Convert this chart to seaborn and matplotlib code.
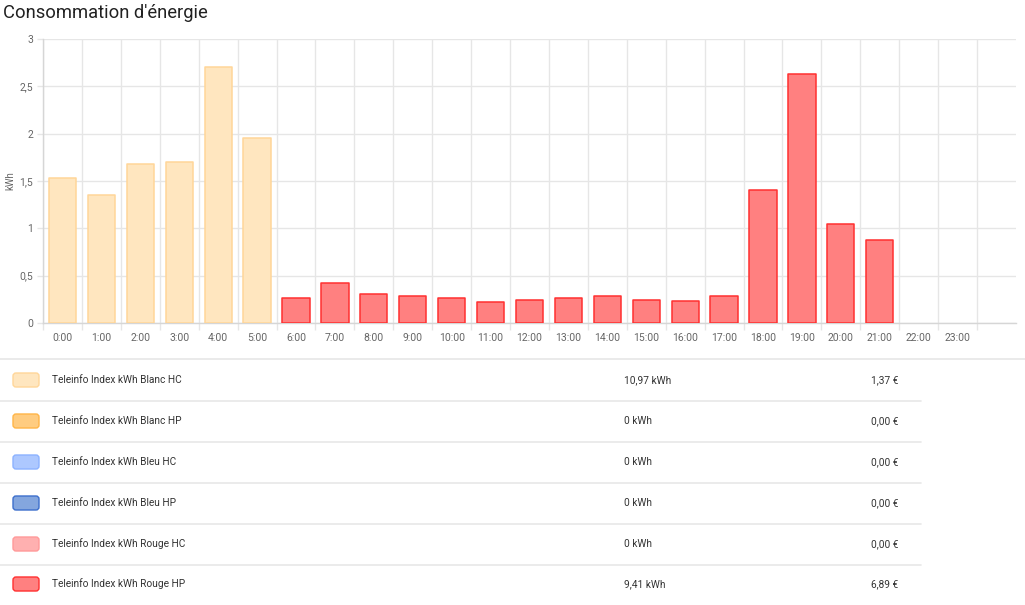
import matplotlib
matplotlib.use("Agg")
import matplotlib.pyplot as plt
import matplotlib.transforms as mtransforms
from matplotlib.patches import FancyBboxPatch
from matplotlib.lines import Line2D
import seaborn as sns
import pandas as pd
import numpy as np

# ---------------- data ----------------
title = "Consommation d'énergie"
hours = ["0:00", "1:00", "2:00", "3:00", "4:00", "5:00", "6:00", "7:00",
         "8:00", "9:00", "10:00", "11:00", "12:00", "13:00", "14:00", "15:00",
         "16:00", "17:00", "18:00", "19:00", "20:00", "21:00", "22:00", "23:00"]
bar_hours = ["0:00", "1:00", "2:00", "3:00", "4:00", "5:00", "6:00", "7:00",
             "8:00", "9:00", "10:00", "11:00", "12:00", "13:00", "14:00", "15:00",
             "16:00", "17:00", "18:00", "19:00", "20:00", "21:00"]
bar_kwh = [1.53, 1.35, 1.68, 1.70, 2.70, 1.95, 0.26, 0.42,
           0.31, 0.28, 0.26, 0.22, 0.24, 0.26, 0.28, 0.24,
           0.23, 0.28, 1.41, 2.63, 1.05, 0.88]
bar_tarif = ["Blanc HC"] * 6 + ["Rouge HP"] * 16
y_ticks = [0, 0.5, 1, 1.5, 2, 2.5, 3]
y_tick_labels = ["0", "0,5", "1", "1,5", "2", "2,5", "3"]
y_label = "kWh"

legend_names = ["Teleinfo Index kWh Blanc HC", "Teleinfo Index kWh Blanc HP",
                "Teleinfo Index kWh Bleu HC", "Teleinfo Index kWh Bleu HP",
                "Teleinfo Index kWh Rouge HC", "Teleinfo Index kWh Rouge HP"]
legend_keys = ["Blanc HC", "Blanc HP", "Bleu HC", "Bleu HP", "Rouge HC", "Rouge HP"]
legend_kwh = ["10,97 kWh", "0 kWh", "0 kWh", "0 kWh", "0 kWh", "9,41 kWh"]
legend_eur = ["1,37 €", "0,00 €", "0,00 €", "0,00 €", "0,00 €", "6,89 €"]

fill_colors = {"Blanc HC": "#FFE6BF", "Blanc HP": "#FFCC80", "Bleu HC": "#ADC8FF",
               "Bleu HP": "#84A6DE", "Rouge HC": "#FFB0B0", "Rouge HP": "#FF8080"}
edge_colors = {"Blanc HC": "#FFD699", "Blanc HP": "#FFB547", "Bleu HC": "#8CB2FF",
               "Bleu HP": "#3D6FCC", "Rouge HC": "#FF9A9A", "Rouge HP": "#FF3030"}

# ---------------- style ----------------
sns.set_theme(style="white")
plt.rcParams["font.family"] = ["Roboto", "DejaVu Sans"]

W, H = 1025, 605
fig = plt.figure(figsize=(W / 100, H / 100), dpi=100)
fig.patch.set_facecolor("white")

ax_left, ax_right, ax_top, ax_bottom = 43, 1016, 39, 323
ax = fig.add_axes([ax_left / W, 1 - ax_bottom / H,
                   (ax_right - ax_left) / W, (ax_bottom - ax_top) / H])

df = pd.DataFrame({"heure": bar_hours, "kwh": bar_kwh, "tarif": bar_tarif})
present = [k for k in legend_keys if k in set(bar_tarif)]
sns.barplot(data=df, x="heure", y="kwh", hue="tarif", order=hours,
            hue_order=present, palette=fill_colors, dodge=False,
            saturation=1, width=0.7, legend=False, ax=ax, zorder=3)

for cont, key in zip(ax.containers, present):
    for p in cont.patches:
        p.set_edgecolor(edge_colors[key])
        p.set_linewidth(1.1)
        p.set_joinstyle("round")

ax.set_xlim(-0.5, 24.5)
ax.set_ylim(0, 3)
ax.set_xlabel("")
ax.set_ylabel(y_label, fontsize=7, color="#666666")
ax.yaxis.set_label_coords((15 - ax_left) / (ax_right - ax_left), 0.5)

ax.set_xticks(range(len(hours)))
ax.set_xticklabels(hours)
ax.set_xticks(np.arange(-0.5, 24, 1), minor=True)
ax.set_yticks(y_ticks)
ax.set_yticklabels(y_tick_labels)

ax.tick_params(axis="x", which="major", length=0, pad=7, labelsize=7.5,
               labelcolor="#666666")
ax.tick_params(axis="x", which="minor", length=5, width=1, color="#E6E6E6",
               bottom=True)
ax.tick_params(axis="y", which="major", length=4, width=1, color="#E6E6E6",
               pad=3, labelsize=7.5, labelcolor="#666666", left=True)

ax.set_axisbelow(True)
ax.grid(False)
ax.grid(which="minor", axis="x", color="#E6E6E6", lw=1, zorder=0)
ax.grid(which="major", axis="y", color="#E6E6E6", lw=1, zorder=0)

for s in ["top", "right"]:
    ax.spines[s].set_visible(False)
ax.spines["left"].set_color("#D6D6D6")
ax.spines["bottom"].set_color("#D6D6D6")
ax.spines["left"].set_linewidth(1)
ax.spines["bottom"].set_linewidth(1)

# ---------------- title ----------------
ident = mtransforms.IdentityTransform()
fig.text(3, H - 13, title, transform=ident, fontsize=13.2, color="#212121",
         va="center", ha="left")

# ---------------- legend table ----------------
fig.add_artist(Line2D([0, W], [H - 359, H - 359], transform=ident,
                      color="#E6E6E6", lw=1.2))
sep_y = [401, 442, 483, 524, 565]
for y in sep_y:
    fig.add_artist(Line2D([0, 921], [H - y, H - y], transform=ident,
                          color="#E8E8E8", lw=1.2))

row_y = [380, 421, 462, 503, 544, 584]
for y, name, key, kwh, eur in zip(row_y, legend_names, legend_keys,
                                  legend_kwh, legend_eur):
    sw = FancyBboxPatch((13, H - y - 7), 26, 14,
                        boxstyle="round,pad=0,rounding_size=3",
                        transform=ident, facecolor=fill_colors[key],
                        edgecolor=edge_colors[key], lw=1.0)
    fig.add_artist(sw)
    fig.text(52, H - y, name, transform=ident, fontsize=7.3, color="#333333",
             va="center", ha="left")
    fig.text(624, H - y, kwh, transform=ident, fontsize=7.3, color="#333333",
             va="center", ha="left")
    fig.text(898, H - y, eur, transform=ident, fontsize=7.3, color="#333333",
             va="center", ha="right")

fig.savefig("out.png", dpi=100, facecolor="white")
